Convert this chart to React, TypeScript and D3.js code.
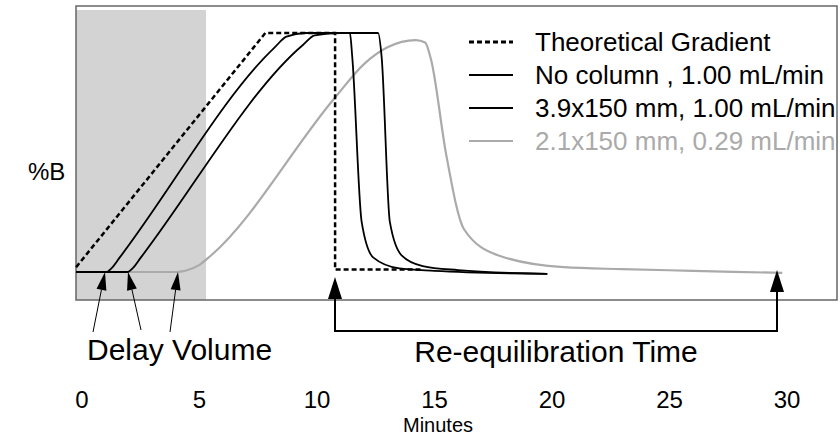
import React from 'react';
import * as d3 from 'd3';

type Pt = [number, number];

// time (min), %B
const theoretical: Pt[] = [[-0.25, 2], [7.8, 100], [10.77, 100], [10.77, 1], [14.4, 1]];
const noColumn: Pt[] = [[-0.25, 0], [1.05, 0], [1.25, 1.5], [1.6, 6], [8.2, 94], [8.7, 98.5], [9.5, 100], [11.4, 100], [11.5, 90], [11.9, 21], [12.4, 6], [13.5, 1.5], [15, 0.5], [19.8, -0.8]];
const col39: Pt[] = [[-0.25, 0], [1.95, 0], [2.15, 1.5], [2.5, 6], [9.4, 95], [9.9, 99], [11, 100], [12.6, 100], [12.75, 90], [13.1, 21], [13.6, 7], [14.5, 2.5], [16, 0.8], [19.8, -0.8]];
const col21: Pt[] = [[-0.25, 0], [4.0, 0], [4.4, 0.5], [5, 3], [5.5, 7], [10.77, 73], [12, 87], [13, 94], [14.2, 97], [14.6, 96], [14.85, 89], [15.5, 49], [16.25, 18], [17.7, 7], [20.5, 2], [23, 1.2], [26, 0.5], [29.8, -0.4]];

const xTicks = [0, 5, 10, 15, 20, 25, 30];
const legendLabels = ['Theoretical Gradient', 'No column , 1.00 mL/min', '3.9x150 mm, 1.00 mL/min', '2.1x150 mm, 0.29 mL/min'];
const legendColors = ['#000', '#000', '#000', '#aaa'];
const legendDash = ['5,3', null, null, null];

const W = 840;
const H = 437;
const FONT = "'Liberation Sans', Arial, sans-serif";
const NARROW = "'Liberation Sans Narrow', 'Liberation Sans', Arial, sans-serif";

const x = d3.scaleLinear().domain([0, 30]).range([82, 787]);
const y = d3.scaleLinear().domain([0, 100]).range([272, 33]);

const linear = d3.line<Pt>().x(d => x(d[0])).y(d => y(d[1]));
const smooth = d3.line<Pt>().x(d => x(d[0])).y(d => y(d[1])).curve(d3.curveMonotoneX);

const Arrow: React.FC<{ x1: number; y1: number; x2: number; y2: number; w?: number; len?: number; sw?: number }> = ({ x1, y1, x2, y2, w = 5, len = 18, sw = 1 }) => {
  const a = Math.atan2(y2 - y1, x2 - x1);
  const bx = x2 - len * Math.cos(a);
  const by = y2 - len * Math.sin(a);
  const px = -Math.sin(a) * w;
  const py = Math.cos(a) * w;
  return (
    <g>
      <line x1={x1} y1={y1} x2={bx} y2={by} stroke="#000" strokeWidth={sw} />
      <polygon points={`${x2},${y2} ${bx + px},${by + py} ${bx - px},${by - py}`} fill="#000" />
    </g>
  );
};

const App: React.FC = () => {
  return (
    <svg width={W} height={H} style={{ position: 'absolute', left: 0, top: 0, background: '#fff' }} fontFamily={FONT}>
      <rect x={76} y={10} width={130} height={290} fill="#d3d3d3" />
      <rect x={76} y={6} width={761} height={294} fill="none" stroke="#666" strokeWidth={1.5} />

      <path d={smooth(col21) ?? ''} fill="none" stroke="#aaa" strokeWidth={2.2} />
      <path d={smooth(noColumn) ?? ''} fill="none" stroke="#000" strokeWidth={1.8} />
      <path d={smooth(col39) ?? ''} fill="none" stroke="#000" strokeWidth={1.8} />
      <path d={linear(theoretical) ?? ''} fill="none" stroke="#000" strokeWidth={2.5} strokeDasharray="5,3" />

      {legendLabels.map((l, i) => (
        <g key={l} transform={`translate(0, ${42 + i * 33})`}>
          <line x1={469} x2={513} y1={0} y2={0} stroke={legendColors[i]} strokeWidth={i === 0 ? 3 : 2.2} strokeDasharray={legendDash[i] ?? undefined} />
          <text x={535} y={9} fontSize={26} fill={legendColors[i]}>{l}</text>
        </g>
      ))}

      <text x={28} y={180} fontSize={24}>%B</text>

      <Arrow x1={93} y1={332} x2={105} y2={272} />
      <Arrow x1={141} y1={330} x2={128} y2={272} />
      <Arrow x1={170} y1={332} x2={178} y2={272} />
      <text x={87} y={360} fontSize={30} fontFamily={NARROW}>Delay Volume</text>

      <line x1={335} x2={777} y1={331} y2={331} stroke="#000" strokeWidth={2} />
      <Arrow x1={335} y1={332} x2={335} y2={277} w={7} len={22} sw={2} />
      <Arrow x1={777} y1={332} x2={777} y2={270} w={7} len={22} sw={2} />
      <text x={556} y={362} fontSize={30} fontFamily={NARROW} textAnchor="middle">Re-equilibration Time</text>

      {xTicks.map(t => (
        <text key={t} x={x(t)} y={408} fontSize={24} textAnchor="middle">{t}</text>
      ))}
      <text x={438} y={432} fontSize={20} fontFamily={NARROW} textAnchor="middle">Minutes</text>
    </svg>
  );
};

export default App;
